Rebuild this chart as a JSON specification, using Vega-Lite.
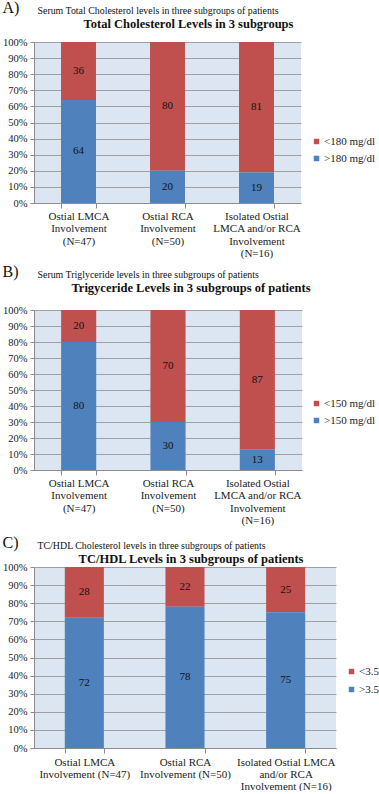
{
  "$schema": "https://vega.github.io/schema/vega-lite/v6.json",
  "padding": {"left": 2, "top": 0, "right": 0, "bottom": 0},
  "background": "white",
  "config": {
    "font": "Liberation Serif",
    "view": {"fill": "#DCE6F2", "stroke": null},
    "axis": {"labelFont": "Liberation Serif", "labelColor": "#222", "domainColor": "#8c8c8c", "tickColor": "#8c8c8c", "gridColor": "#a0a0a0"},
    "legend": {"labelFont": "Liberation Serif", "labelFontSize": 11, "labelColor": "#222", "symbolType": "square", "symbolSize": 30, "symbolStrokeWidth": 0, "rowPadding": 5, "labelOffset": 2, "orient": "none"},
    "title": {"font": "Liberation Serif", "color": "#111"}
  },
  "resolve": {"scale": {"color": "independent"}, "legend": {"color": "independent"}},
  "spacing": 9,
  "datasets": {
    "tc": [
      {"group": "Ostial LMCA\nInvolvement\n(N=47)", "cat": "<180 mg/dl", "value": 36},
      {"group": "Ostial LMCA\nInvolvement\n(N=47)", "cat": ">180 mg/dl", "value": 64},
      {"group": "Ostial RCA\nInvolvement\n(N=50)", "cat": "<180 mg/dl", "value": 80},
      {"group": "Ostial RCA\nInvolvement\n(N=50)", "cat": ">180 mg/dl", "value": 20},
      {"group": "Isolated Ostial\nLMCA and/or RCA\nInvolvement\n(N=16)", "cat": "<180 mg/dl", "value": 81},
      {"group": "Isolated Ostial\nLMCA and/or RCA\nInvolvement\n(N=16)", "cat": ">180 mg/dl", "value": 19}
    ],
    "tg": [
      {"group": "Ostial LMCA\nInvolvement\n(N=47)", "cat": "<150 mg/dl", "value": 20},
      {"group": "Ostial LMCA\nInvolvement\n(N=47)", "cat": ">150 mg/dl", "value": 80},
      {"group": "Ostial RCA\nInvolvement\n(N=50)", "cat": "<150 mg/dl", "value": 70},
      {"group": "Ostial RCA\nInvolvement\n(N=50)", "cat": ">150 mg/dl", "value": 30},
      {"group": "Isolated Ostial\nLMCA and/or RCA\nInvolvement\n(N=16)", "cat": "<150 mg/dl", "value": 87},
      {"group": "Isolated Ostial\nLMCA and/or RCA\nInvolvement\n(N=16)", "cat": ">150 mg/dl", "value": 13}
    ],
    "hdl": [
      {"group": "Ostial LMCA\nInvolvement (N=47)", "cat": "<3.5", "value": 28},
      {"group": "Ostial LMCA\nInvolvement (N=47)", "cat": ">3.5", "value": 72},
      {"group": "Ostial RCA\nInvolvement (N=50)", "cat": "<3.5", "value": 22},
      {"group": "Ostial RCA\nInvolvement (N=50)", "cat": ">3.5", "value": 78},
      {"group": "Isolated Ostial LMCA\nand/or RCA\nInvolvement (N=16)", "cat": "<3.5", "value": 25},
      {"group": "Isolated Ostial LMCA\nand/or RCA\nInvolvement (N=16)", "cat": ">3.5", "value": 75}
    ]
  },
  "vconcat": [
    {
      "spacing": 5,
      "resolve": {"scale": {"color": "independent"}, "legend": {"color": "independent"}},
      "vconcat": [
        {
          "title": {"text": "A)", "anchor": "start", "frame": "bounds", "fontSize": 16, "fontWeight": "normal", "offset": -10},
          "vconcat": [
            {
              "title": {"text": "Serum Total Cholesterol levels in three subgroups of patients", "anchor": "start", "frame": "bounds", "dx": 35, "fontSize": 9.9, "fontWeight": "normal", "offset": 2},
              "vconcat": [
                {
                  "title": {"text": "Total Cholesterol Levels in 3 subgroups", "anchor": "middle", "frame": "group", "dx": 21, "fontSize": 12.5, "fontWeight": "bold", "offset": 6.5},
                  "width": 267, "height": 161,
                  "data": {"name": "tc"},
                  "encoding": {
                    "x": {"field": "group", "type": "nominal", "sort": null, "title": null, "scale": {"paddingInner": 0.607, "paddingOuter": 0.3035},
                          "axis": {"labelAngle": 0, "tickBand": "extent", "tickSize": 5, "labelPadding": 2, "labelFontSize": 11, "labelLineHeight": 12.5, "labelExpr": "split(datum.label, '\\n')", "labelLimit": 200}},
                    "y": {"field": "value", "type": "quantitative", "stack": "zero", "title": null, "scale": {"domain": [0, 100], "nice": false},
                          "axis": {"values": [0, 10, 20, 30, 40, 50, 60, 70, 80, 90, 100], "labelExpr": "datum.value + '%'", "tickSize": 4, "labelPadding": 3, "labelFontSize": 10.5, "grid": true}},
                    "order": {"field": "cat", "sort": "descending"}
                  },
                  "layer": [
                    {"mark": {"type": "bar"},
                     "encoding": {"color": {"field": "cat", "type": "nominal", "scale": {"domain": ["<180 mg/dl", ">180 mg/dl"], "range": ["#C0504D", "#4F81BD"]},
                                            "legend": {"title": null, "legendX": 277, "legendY": 94}}}},
                    {"mark": {"type": "text", "fontSize": 11, "color": "#111", "font": "Liberation Serif"},
                     "encoding": {"y": {"field": "value", "type": "quantitative", "stack": "zero", "bandPosition": 0.5}, "detail": {"field": "cat"}, "text": {"field": "value", "type": "quantitative"}}}
                  ]
                }
              ]
            }
          ]
        },
        {
          "title": {"text": "B)", "anchor": "start", "frame": "bounds", "fontSize": 16, "fontWeight": "normal", "offset": -10},
          "vconcat": [
            {
              "title": {"text": "Serum Triglyceride levels in three subgroups of patients", "anchor": "start", "frame": "bounds", "dx": 35, "fontSize": 9.9, "fontWeight": "normal", "offset": 2},
              "vconcat": [
                {
                  "title": {"text": "Trigyceride Levels in 3 subgroups of patients", "anchor": "middle", "frame": "group", "dx": 23, "fontSize": 12.5, "fontWeight": "bold", "offset": 10.5},
                  "width": 268, "height": 160,
                  "data": {"name": "tg"},
                  "encoding": {
                    "x": {"field": "group", "type": "nominal", "sort": null, "title": null, "scale": {"paddingInner": 0.607, "paddingOuter": 0.3035},
                          "axis": {"labelAngle": 0, "tickBand": "extent", "tickSize": 5, "labelPadding": 2, "labelFontSize": 11, "labelLineHeight": 12.5, "labelExpr": "split(datum.label, '\\n')", "labelLimit": 200}},
                    "y": {"field": "value", "type": "quantitative", "stack": "zero", "title": null, "scale": {"domain": [0, 100], "nice": false},
                          "axis": {"values": [0, 10, 20, 30, 40, 50, 60, 70, 80, 90, 100], "labelExpr": "datum.value + '%'", "tickSize": 4, "labelPadding": 3, "labelFontSize": 10.5, "grid": true}},
                    "order": {"field": "cat", "sort": "descending"}
                  },
                  "layer": [
                    {"mark": {"type": "bar"},
                     "encoding": {"color": {"field": "cat", "type": "nominal", "scale": {"domain": ["<150 mg/dl", ">150 mg/dl"], "range": ["#C0504D", "#4F81BD"]},
                                            "legend": {"title": null, "legendX": 277, "legendY": 88}}}},
                    {"mark": {"type": "text", "fontSize": 11, "color": "#111", "font": "Liberation Serif"},
                     "encoding": {"y": {"field": "value", "type": "quantitative", "stack": "zero", "bandPosition": 0.5}, "detail": {"field": "cat"}, "text": {"field": "value", "type": "quantitative"}}}
                  ]
                }
              ]
            }
          ]
        }
      ]
    },
    {
      "title": {"text": "C)", "anchor": "start", "frame": "bounds", "fontSize": 16, "fontWeight": "normal", "offset": -10},
      "vconcat": [
        {
          "title": {"text": "TC/HDL Cholesterol levels in three subgroups of patients", "anchor": "start", "frame": "bounds", "dx": 35, "fontSize": 9.9, "fontWeight": "normal", "offset": 2},
          "vconcat": [
            {
              "title": {"text": "TC/HDL Levels in 3 subgroups of patients", "anchor": "middle", "frame": "group", "dx": 6, "fontSize": 12.5, "fontWeight": "bold", "offset": -3.5},
              "width": 302, "height": 181,
              "data": {"name": "hdl"},
              "encoding": {
                "x": {"field": "group", "type": "nominal", "sort": null, "title": null, "scale": {"paddingInner": 0.612, "paddingOuter": 0.306},
                      "axis": {"labelAngle": 0, "tickBand": "extent", "tickSize": 5, "labelPadding": 3, "labelFontSize": 11, "labelLineHeight": 12, "labelExpr": "split(datum.label, '\\n')", "labelLimit": 200}},
                "y": {"field": "value", "type": "quantitative", "stack": "zero", "title": null, "scale": {"domain": [0, 100], "nice": false},
                      "axis": {"values": [0, 10, 20, 30, 40, 50, 60, 70, 80, 90, 100], "labelExpr": "datum.value + '%'", "tickSize": 4, "labelPadding": 3, "labelFontSize": 10.5, "grid": true}},
                "order": {"field": "cat", "sort": "descending"}
              },
              "layer": [
                {"mark": {"type": "bar"},
                 "encoding": {"color": {"field": "cat", "type": "nominal", "scale": {"domain": ["<3.5", ">3.5"], "range": ["#C0504D", "#4F81BD"]},
                                        "legend": {"title": null, "legendX": 312, "legendY": 99, "rowPadding": 6}}}},
                {"mark": {"type": "text", "fontSize": 11, "color": "#111", "font": "Liberation Serif"},
                 "encoding": {"y": {"field": "value", "type": "quantitative", "stack": "zero", "bandPosition": 0.5}, "detail": {"field": "cat"}, "text": {"field": "value", "type": "quantitative"}}}
              ]
            }
          ]
        }
      ]
    }
  ]
}
